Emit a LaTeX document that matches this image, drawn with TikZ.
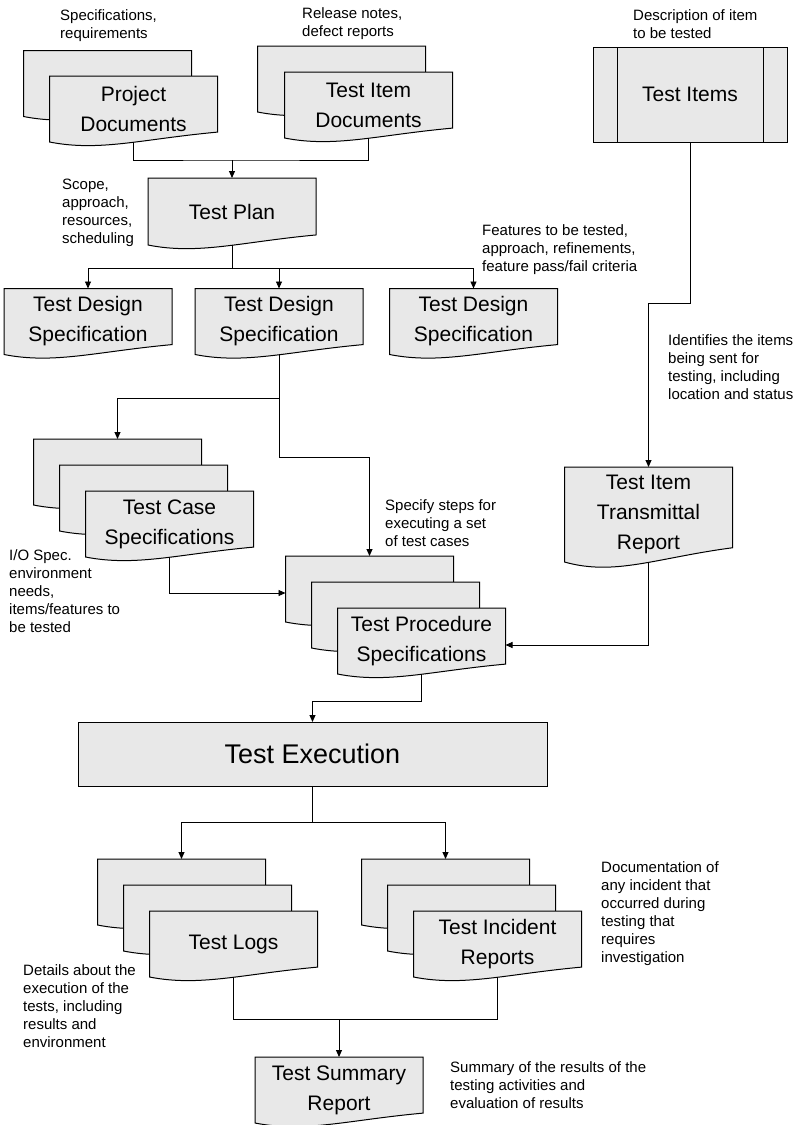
\documentclass[tikz,border=0pt]{standalone}
\usepackage{fontspec}
\setmainfont{Liberation Sans}
\usetikzlibrary{arrows.meta,
                positioning}

\definecolor{sheetgray}{RGB}{232,232,232}
\newcommand\boxsize{\fontsize{21}{30}\selectfont}
\newcommand\bigboxsize{\fontsize{27}{30}\selectfont}
\newcommand\notesize{\fontsize{15}{18}\selectfont}

% flowchart "document": rectangle with a wavy bottom edge
\makeatletter
\pgfdeclareshape{wavydoc}{%
  \inheritsavedanchors[from=rectangle]%
  \inheritanchorborder[from=rectangle]%
  \inheritanchor[from=rectangle]{center}%
  \inheritanchor[from=rectangle]{north}%
  \inheritanchor[from=rectangle]{south}%
  \inheritanchor[from=rectangle]{east}%
  \inheritanchor[from=rectangle]{west}%
  \inheritanchor[from=rectangle]{north east}%
  \inheritanchor[from=rectangle]{north west}%
  \inheritanchor[from=rectangle]{south east}%
  \inheritanchor[from=rectangle]{south west}%
  \backgroundpath{%
    \southwest \edef\wdoc@xa{\the\pgf@x}\edef\wdoc@ya{\the\pgf@y}%
    \northeast \edef\wdoc@xb{\the\pgf@x}\edef\wdoc@yb{\the\pgf@y}%
    \pgfmathsetmacro\wdoc@w{(\wdoc@xb)-(\wdoc@xa)}%
    \pgfmathsetmacro\wdoc@r{0.15*((\wdoc@yb)-(\wdoc@ya))}%
    \pgfpathmoveto{\pgfqpoint{\wdoc@xa}{\wdoc@yb}}%
    \pgfpathlineto{\pgfqpoint{\wdoc@xb}{\wdoc@yb}}%
    \pgfpathlineto{\pgfpoint{\wdoc@xb}{\wdoc@ya+\wdoc@r pt}}%
    \pgfpathcurveto{\pgfpoint{\wdoc@xb-0.45*\wdoc@w pt}{\wdoc@ya+0.3*\wdoc@r pt}}%
                   {\pgfpoint{\wdoc@xa+0.3*\wdoc@w pt}{\wdoc@ya-\wdoc@r pt}}%
                   {\pgfqpoint{\wdoc@xa}{\wdoc@ya}}%
    \pgfpathclose
  }%
}
\makeatother

\tikzset{
  doc/.style={shape=wavydoc, draw, line width=1pt, fill=sheetgray,
              minimum width=168pt, minimum height=66pt,
              inner sep=0pt, outer sep=0pt, align=center, font=\boxsize},
  box/.style={rectangle, draw, line width=1pt, fill=sheetgray,
              inner sep=0pt, outer sep=0pt, font=\boxsize},
  note/.style={anchor=north west, inner sep=0pt, align=left, font=\notesize},
  wire/.style={line width=0.9pt},
  arr/.style={-{Triangle[length=7pt,width=6pt]}}
}

\begin{document}
\begin{tikzpicture}[x=1pt,y=-1pt]
 \useasboundingbox (0,0) rectangle (795,1125);

 % inputs
 \node[doc] (pd1) at (107.5,83.5) {};
 \node[doc] (pd) at (133.5,109) {Project\\Documents};
 \node[doc] (tid1) at (341.5,79) {};
 \node[doc] (tid) at (368.5,105) {Test Item\\Documents};
 \node[box, minimum width=194pt, minimum height=95pt] (ti) at (690,94.5) {Test Items};
 \draw[line width=1pt] ([xshift=24pt]ti.north west) -- ([xshift=24pt]ti.south west)
                       ([xshift=-24pt]ti.north east) -- ([xshift=-24pt]ti.south east);

 \node[doc, minimum width=168pt, minimum height=67pt] (tp) at (232,211.5) {Test Plan};
 \node[doc] (tds1) at (88,321.5) {Test Design\\Specification};
 \node[doc] (tds2) at (279,321.5) {Test Design\\Specification};
 \node[doc] (tds3) at (473.5,321.5) {Test Design\\Specification};
 \node[doc, minimum height=95pt] (titr) at (648.5,514.5) {Test Item\\Transmittal\\Report};

 % stacked sheets, back to front
 \foreach \i in {2,1} {
   \node[doc] (tcs\i) at (169.5-26*\i,524-26*\i) {};
 }
 \node[doc] (tcs) at (169.5,524) {Test Case\\Specifications};
 \foreach \i in {2,1} {
   \node[doc] (tps\i) at (421.5-26*\i,641-26*\i) {};
 }
 \node[doc] (tps) at (421.5,641) {Test Procedure\\Specifications};

 \node[box, minimum width=469pt, minimum height=64pt, font=\bigboxsize] (te) at (312.5,754) {Test Execution};

 \foreach \i in {2,1} {
   \node[doc] (tl\i) at (233.5-26*\i,944-26*\i) {};
   \node[doc] (tir\i) at (497.5-26*\i,944-26*\i) {};
 }
 \node[doc] (tl) at (233.5,944) {Test Logs};
 \node[doc] (tir) at (497.5,944) {Test Incident\\Reports};
 \node[doc] (tsr) at (339,1090) {Test Summary\\Report};

 % notes
 \node[note] (pd-note) at (60,9) {Specifications,\\requirements};
 \node[note] (tid-note) at (302,7) {Release notes,\\defect reports};
 \node[note] (ti-note) at (633,9) {Description of item\\to be tested};
 \node[note] (tp-note) at (62,179) {Scope,\\approach,\\resources,\\scheduling};
 \node[note] (tds-note) at (482,224) {Features to be tested,\\approach, refinements,\\feature pass/fail criteria};
 \node[note] (titr-note) at (668,334) {Identifies the items\\being sent for\\testing, including\\location and status};
 \node[note] (tps-note) at (385,499) {Specify steps for\\executing a set\\of test cases};
 \node[note] (tcs-note) at (9,549) {I/O Spec.\\environment\\needs,\\items/features to\\be tested};
 \node[note] (tir-note) at (601,861) {Documentation of\\any incident that\\occurred during\\testing that\\requires\\investigation};
 \node[note] (tl-note) at (23,964) {Details about the\\execution of the\\tests, including\\results and\\environment};
 \node[note] (tsr-note) at (450,1061) {Summary of the results of the\\testing activities and\\evaluation of results};

 % connectors
 \coordinate (j1) at (232,160);
 \draw[wire] (pd.south) |- (j1) -| (tid.south);
 \draw[wire,arr] (j1) -- (tp.north);

 \coordinate (j2) at (232,268);
 \draw[wire] (tp.south) -- (j2);
 \foreach \n in {tds1,tds2,tds3}
   \draw[wire,arr] (j2) -| (\n.north);

 \draw[wire,arr] (ti.south) -- ++(0,161) -| (titr.north);

 \coordinate (j3) at (279,398);
 \coordinate (j4) at (279,457);
 \draw[wire,arr] (j3) -| (tcs2.north);
 \draw[wire,arr] (tds2.south) -- (j4) -| (tps2.north);
 \draw[wire,arr] (tcs.south) |- ([yshift=-4pt]tps2.west);
 \draw[wire,arr] (titr.south) |- ([yshift=-4pt]tps.east);
 \draw[wire,arr] (tps.south) -- ++(0,27) -| (te.north);

 \coordinate (j5) at (312.5,822);
 \draw[wire] (te.south) -- (j5);
 \draw[wire,arr] (j5) -| (tl2.north);
 \draw[wire,arr] (j5) -| (tir2.north);

 \coordinate (j6) at (339,1019);
 \draw[wire] (tl.south) |- (j6) -| (tir.south);
 \draw[wire,arr] (j6) -- (tsr.north);
\end{tikzpicture}
\end{document}
